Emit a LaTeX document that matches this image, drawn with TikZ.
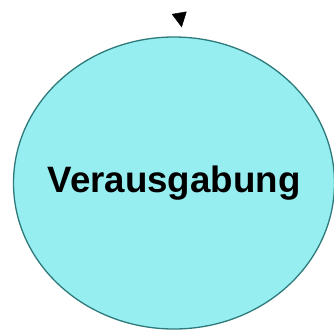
\documentclass[tikz,border=0pt]{standalone}
\usepackage{fontspec}
\setmainfont{Liberation Sans}
\usetikzlibrary{positioning,shapes.geometric}
\usetikzlibrary{arrows.meta}
\definecolor{mycyan}{RGB}{150,238,240}
\definecolor{myteal}{RGB}{46,122,122}

\begin{document}
\begin{tikzpicture}[x=1pt,y=1pt,
  phase/.style={ellipse,draw=myteal,fill=mycyan,line width=1.3pt,
    minimum width=321pt,minimum height=292pt,inner sep=0pt},
  phasetext/.style={font=\fontsize{36.7}{40}\selectfont\bfseries},
  tip/.style={-{Triangle[length=14.7pt,width=15pt]},black}]

  \useasboundingbox (0,0) rectangle (334,330);

  \node[phase,label={[phasetext]center:Verausgabung}] (verausgabung) at (174,147) {};

  \coordinate (in0) at (179.2,317.2);
  \coordinate (in1) at (181.7,302.7);
  \draw[tip] (in0) -- (in1);
\end{tikzpicture}
\end{document}
